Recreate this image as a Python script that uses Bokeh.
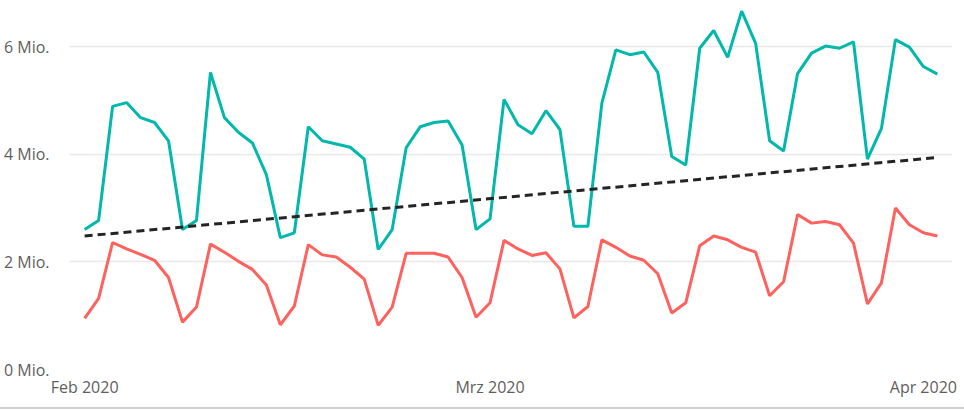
import pandas as pd
from bokeh.plotting import figure
from bokeh.models import FixedTicker, CustomJSTickFormatter, Range1d, ColumnDataSource, Div
from bokeh.layouts import column
from bokeh.embed import file_html
from bokeh.resources import INLINE

# ---- data (values in millions) ----
start_date = "2020-02-01"
end_date = "2020-04-02"
dates = pd.date_range(start_date, end_date, freq="D")

series_a = [2.60, 2.77, 4.89, 4.96, 4.68, 4.59, 4.25, 2.60, 2.77, 5.52,
            4.68, 4.41, 4.21, 3.62, 2.45, 2.54, 4.51, 4.25, 4.19, 4.13,
            3.91, 2.23, 2.60, 4.12, 4.51, 4.59, 4.62, 4.17, 2.60, 2.80,
            5.02, 4.55, 4.38, 4.81, 4.46, 2.66, 2.66, 4.95, 5.94, 5.85,
            5.90, 5.52, 3.96, 3.80, 5.97, 6.30, 5.80, 6.66, 6.06, 4.25,
            4.06, 5.50, 5.88, 6.01, 5.97, 6.09, 3.91, 4.48, 6.13, 5.99,
            5.63, 5.49]

series_b = [0.95, 1.32, 2.36, 2.24, 2.14, 2.03, 1.71, 0.88, 1.16, 2.33,
            2.18, 2.01, 1.86, 1.57, 0.83, 1.18, 2.32, 2.13, 2.09, 1.90,
            1.68, 0.82, 1.16, 2.16, 2.16, 2.16, 2.09, 1.71, 0.97, 1.24,
            2.40, 2.24, 2.12, 2.17, 1.87, 0.96, 1.17, 2.41, 2.27, 2.11,
            2.03, 1.78, 1.05, 1.24, 2.30, 2.48, 2.41, 2.27, 2.18, 1.37,
            1.63, 2.88, 2.72, 2.75, 2.69, 2.35, 1.22, 1.61, 3.00, 2.69,
            2.54, 2.48]

trend_dates = [start_date, end_date]
trend_values = [2.48, 3.94]

y_ticks = [0, 2, 4, 6]
x_tick_dates = ["2020-02-01", "2020-03-01", "2020-04-01"]
month_names = ["Jan", "Feb", "Mrz", "Apr", "Mai", "Jun", "Jul", "Aug", "Sep", "Okt", "Nov", "Dez"]

# ---- figure ----
FONT = "Open Sans"
TEXT_COLOR = "#605E5C"

src = ColumnDataSource(dict(x=dates, a=series_a, b=series_b))
trend_src = ColumnDataSource(dict(x=pd.to_datetime(trend_dates), y=trend_values))

x_start = pd.Timestamp("2020-01-31").value // 10**6 - 2 * 3600 * 1000
x_end = pd.Timestamp("2020-04-03").value // 10**6 + 2 * 3600 * 1000

p = figure(width=964, height=407, x_axis_type="datetime",
           output_backend="svg", toolbar_location=None,
           x_range=Range1d(x_start, x_end), y_range=Range1d(0, 6.82),
           min_border_left=68, min_border_right=12, min_border_top=2, min_border_bottom=38)
p.outline_line_color = None
p.background_fill_color = "white"
p.border_fill_color = "white"

p.line("x", "a", source=src, line_color="#01B8AA", line_width=3)
p.line("x", "b", source=src, line_color="#FD625E", line_width=3)
p.line("x", "y", source=trend_src, line_color="#252423", line_width=3, line_dash="8 5")

# y axis
p.yaxis.ticker = FixedTicker(ticks=y_ticks)
p.yaxis.major_label_overrides = {t: f"{t} Mio." for t in y_ticks}
p.yaxis.axis_line_color = None
p.yaxis.major_tick_line_color = None
p.yaxis.minor_tick_line_color = None
p.yaxis.major_label_standoff = 14
p.yaxis.major_label_text_font = FONT
p.yaxis.major_label_text_font_size = "16px"
p.yaxis.major_label_text_color = TEXT_COLOR

# x axis
x_ticks = [pd.Timestamp(d).value // 10**6 for d in x_tick_dates]
p.xaxis.ticker = FixedTicker(ticks=x_ticks)
p.xaxis.formatter = CustomJSTickFormatter(args=dict(names=month_names), code="""
    const d = new Date(tick);
    return names[d.getUTCMonth()] + " " + d.getUTCFullYear();
""")
p.xaxis.axis_line_color = None
p.xaxis.major_tick_line_color = None
p.xaxis.minor_tick_line_color = None
p.xaxis.major_label_standoff = 0
p.xaxis.major_label_text_font = FONT
p.xaxis.major_label_text_font_size = "16px"
p.xaxis.major_label_text_color = TEXT_COLOR

p.xgrid.grid_line_color = None
p.ygrid.grid_line_color = "#e8e8e8"
p.ygrid.grid_line_width = 1.5

bottom = Div(text="", width=964, height=2,
             styles={"border-top": "2px solid #cfcfcf", "margin": "0", "padding": "0"})

layout = column(p, bottom, spacing=0)

open("out.html", "w").write(file_html(layout, INLINE))
